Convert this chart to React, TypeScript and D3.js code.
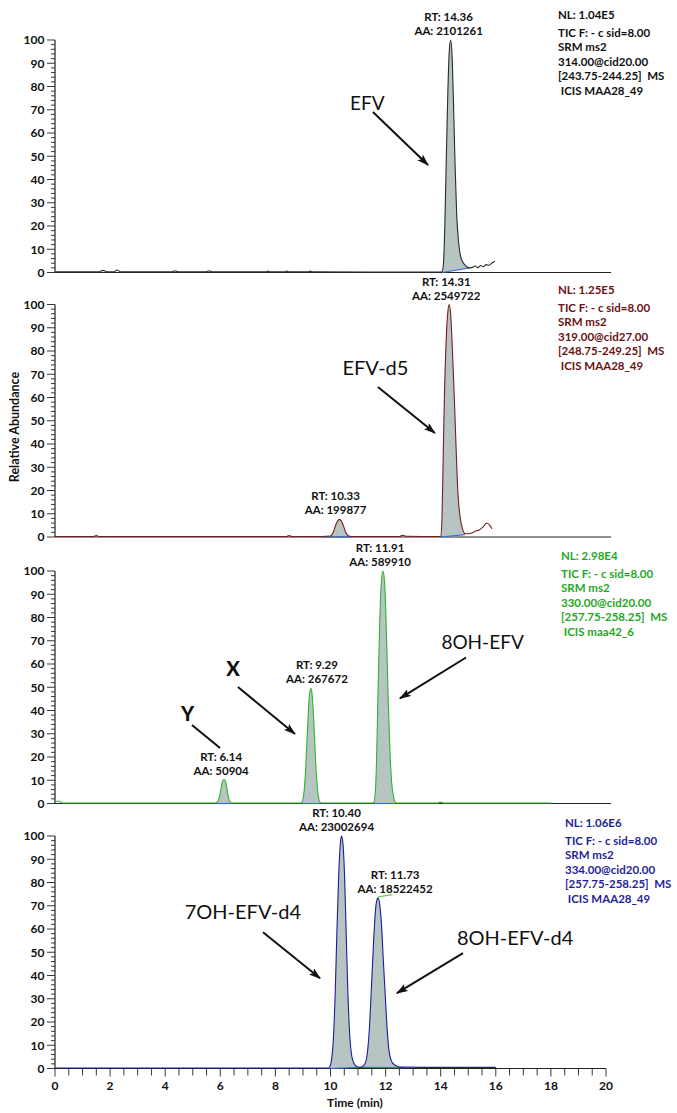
import React from "react";
import * as d3 from "d3";

// axis ticks
const timeTicks = [0, 2, 4, 6, 8, 10, 12, 14, 16, 18, 20];
const abundanceTicks = [0, 10, 20, 30, 40, 50, 60, 70, 80, 90, 100];

// chromatogram traces: [time (min), relative abundance (%)]
const efvTrace: [number, number][] = [
  [0, 0.3], [1.6, 0.3], [1.74, 0.9], [1.88, 0.3], [2.15, 0.3], [2.25, 1.1], [2.38, 0.3],
  [4.25, 0.3], [4.35, 0.7], [4.47, 0.3], [5.5, 0.3], [5.59, 0.7], [5.7, 0.3],
  [7.65, 0.3], [7.73, 0.6], [7.83, 0.3], [8.34, 0.3], [8.42, 0.6], [8.5, 0.3],
  [9.18, 0.3], [9.26, 0.6], [9.35, 0.3], [14.0, 0.2], [14.05, 0.3], [14.1, 4],
  [14.15, 20], [14.2, 47], [14.26, 78], [14.31, 95], [14.36, 100], [14.41, 94],
  [14.46, 75], [14.52, 47], [14.58, 25], [14.65, 13], [14.72, 7], [14.8, 4.5],
  [14.9, 3], [15.0, 2.2], [15.06, 2], [15.15, 2.2], [15.25, 2.8], [15.35, 2.1],
  [15.45, 3], [15.55, 2.5], [15.65, 3.4], [15.75, 3.1], [15.85, 4], [15.97, 4.8],
];

const efvD5Trace: [number, number][] = [
  [0, 0.2], [1.4, 0.2], [1.5, 0.6], [1.6, 0.2], [8.4, 0.2], [8.5, 0.6], [8.6, 0.2],
  [9.68, 0.2], [10.0, 0.4], [10.1, 2], [10.2, 5.5], [10.33, 7.6], [10.45, 5.5],
  [10.55, 2], [10.65, 0.5], [10.75, 0.2], [12.5, 0.2], [12.6, 0.7], [12.75, 0.3],
  [13.95, 0.2], [14.0, 0.3], [14.04, 6], [14.08, 28], [14.13, 58], [14.2, 85],
  [14.26, 97], [14.31, 100], [14.36, 96], [14.42, 82], [14.5, 58], [14.56, 38],
  [14.63, 18], [14.7, 9], [14.78, 4], [14.88, 1.5], [15.0, 1.4], [15.1, 1.6],
  [15.25, 2.5], [15.4, 3], [15.55, 4.5], [15.67, 6], [15.78, 5], [15.86, 3.5],
];

const oh8EfvTrace: [number, number][] = [
  [0, 1], [0.15, 1], [0.3, 0.2], [5.8, 0.2], [5.87, 0.5], [5.95, 2], [6.02, 6],
  [6.08, 9.5], [6.14, 10.3], [6.2, 9], [6.26, 5], [6.32, 1.5], [6.4, 0.2],
  [8.9, 0.2], [8.95, 0.3], [9.03, 4], [9.1, 15], [9.17, 33], [9.23, 46], [9.29, 49.5],
  [9.34, 46], [9.4, 34], [9.46, 18], [9.53, 6], [9.6, 1], [9.68, 0.2],
  [11.5, 0.2], [11.56, 0.3], [11.62, 4], [11.67, 18], [11.72, 45], [11.78, 75],
  [11.84, 94], [11.9, 100], [11.95, 97], [12.0, 85], [12.05, 65], [12.1, 43],
  [12.16, 22], [12.22, 9], [12.29, 3], [12.36, 0.5], [12.42, 0.2],
  [13.9, 0.2], [14.0, 0.6], [14.1, 0.2], [18.0, 0.2],
];

const d4Trace: [number, number][] = [
  [0, 0.2], [9.9, 0.2], [9.96, 0.5], [10.02, 2.5], [10.1, 12], [10.17, 32],
  [10.23, 58], [10.3, 84], [10.36, 97], [10.4, 100], [10.45, 97], [10.51, 83],
  [10.57, 58], [10.63, 33], [10.7, 14], [10.77, 5.5], [10.86, 2], [10.96, 0.8],
  [11.05, 0.5], [11.15, 0.8], [11.25, 2], [11.33, 6], [11.41, 17], [11.49, 36],
  [11.57, 56], [11.64, 69], [11.7, 73], [11.73, 73.4], [11.78, 71], [11.85, 62],
  [11.92, 46], [11.98, 33], [12.05, 18], [12.12, 8], [12.2, 3.5], [12.3, 1.8],
  [12.42, 1], [12.6, 0.6], [13.5, 0.5], [16.0, 0.5],
];

// integrated peak windows: [start, end, baseline at start, baseline at end]
const efvWindows = [[14.05, 15.06, 0, 2]];
const efvD5Windows = [[9.68, 10.75, 0, 0], [14.0, 14.88, 0, 1]];
const oh8EfvWindows = [[5.85, 6.4, 0, 0], [8.95, 9.66, 0, 0], [11.55, 12.38, 0, 0]];
const d4Windows = [[9.95, 11.05, 0, 0.5], [11.05, 12.7, 0.5, 0.4]];

// peak labels: [rt, area, apex abundance]
const efvPeaks: [string, string, number][] = [["14.36", "2101261", 100]];
const efvD5Peaks: [string, string, number][] = [["10.33", "199877", 7.6], ["14.31", "2549722", 100]];
const oh8EfvPeaks: [string, string, number][] = [["6.14", "50904", 10.3], ["9.29", "267672", 49.5], ["11.91", "589910", 100]];
const d4Peaks: [string, string, number][] = [["10.40", "23002694", 100], ["11.73", "18522452", 73.4]];

// scan header text
const efvHeader = ["NL: 1.04E5", "TIC F: - c sid=8.00", "SRM ms2", "314.00@cid20.00", "[243.75-244.25]  MS", " ICIS MAA28_49"];
const efvD5Header = ["NL: 1.25E5", "TIC F: - c sid=8.00", "SRM ms2", "319.00@cid27.00", "[248.75-249.25]  MS", " ICIS MAA28_49"];
const oh8EfvHeader = ["NL: 2.98E4", "TIC F: - c sid=8.00", "SRM ms2", "330.00@cid20.00", "[257.75-258.25]  MS", " ICIS maa42_6"];
const d4Header = ["NL: 1.06E6", "TIC F: - c sid=8.00", "SRM ms2", "334.00@cid20.00", "[257.75-258.25]  MS", " ICIS MAA28_49"];

// compound callouts: [text, label t, label v, arrow from t, v, to t, v, arrowhead]
const efvCallouts: [string, number, number, number, number, number, number, boolean][] = [
  ["EFV", 11.34, 72.9, 11.54, 69, 13.54, 46.2, true],
];
const efvD5Callouts: [string, number, number, number, number, number, number, boolean][] = [
  ["EFV-d5", 11.63, 72.7, 11.72, 64.5, 13.79, 44.7, true],
];
const oh8EfvCallouts: [string, number, number, number, number, number, number, boolean][] = [
  ["X", 6.46, 57.8, 6.64, 50.1, 8.71, 29.9, true],
  ["Y", 4.81, 38.5, 4.97, 33.8, 5.99, 23.9, false],
  ["8OH-EFV", 15.52, 69.5, 14.92, 62.8, 12.52, 45.2, true],
];
const d4Callouts: [string, number, number, number, number, number, number, boolean][] = [
  ["7OH-EFV-d4", 6.82, 67.2, 7.55, 58.6, 9.62, 38.8, true],
  ["8OH-EFV-d4", 16.7, 56.3, 14.81, 49.6, 12.41, 32.4, true],
];

const FONT = "Lato, 'Open Sans', sans-serif";
const FILL = "#b6c5c2";
const BASE_BLUE = "#3a6ee0";

const panels = [
  { trace: efvTrace, windows: efvWindows, peaks: efvPeaks, header: efvHeader, callouts: efvCallouts,
    top: 40, color: "#2a2a2a", text: "#111111", headerX: 558, headerY: 19, labelDx: [-2], calloutSize: 19 },
  { trace: efvD5Trace, windows: efvD5Windows, peaks: efvD5Peaks, header: efvD5Header, callouts: efvD5Callouts,
    top: 304.5, color: "#7a1c1c", text: "#6b1212", headerX: 558, headerY: 294, labelDx: [-4, -3], calloutSize: 20 },
  { trace: oh8EfvTrace, windows: oh8EfvWindows, peaks: oh8EfvPeaks, header: oh8EfvHeader, callouts: oh8EfvCallouts,
    top: 571, color: "#2cb52c", text: "#1fa81f", headerX: 561, headerY: 560, labelDx: [-3, 6, -3], calloutSize: 19 },
  { trace: d4Trace, windows: d4Windows, peaks: d4Peaks, header: d4Header, callouts: d4Callouts,
    top: 836, color: "#1c1ca0", text: "#1f1f99", headerX: 565, headerY: 827, labelDx: [-5, 17], calloutSize: 20 },
];

const PANEL_H = 232.5;
const x = d3.scaleLinear().domain([0, 20]).range([55, 606]);

const App = () => {
  const minorY = d3.range(0, 101, 2);
  const minorX = d3.range(0, 20.01, 0.5);

  return (
    <svg width={677} height={1113} style={{ position: "absolute", left: 0, top: 0, background: "#fff" }}
      fontFamily={FONT}>
      <defs>
        <marker id="arrowhead" viewBox="0 0 12 8" refX="11" refY="4" markerWidth="12" markerHeight="8"
          markerUnits="userSpaceOnUse" orient="auto">
          <path d="M0,0 L12,4 L0,8 L2.5,4 z" fill="#111" />
        </marker>
      </defs>
      {panels.map((p, pi) => {
        const y = d3.scaleLinear().domain([0, 100]).range([p.top + PANEL_H, p.top]);
        const bottom = p.top + PANEL_H;
        const line = d3.line<[number, number]>().x(d => x(d[0])).y(d => y(d[1])).curve(d3.curveMonotoneX);
        const area = d3.area<[number, number]>().x(d => x(d[0])).y0(bottom).y1(d => y(d[1])).curve(d3.curveMonotoneX);
        const isLast = pi === panels.length - 1;
        return (
          <g key={pi}>
            <defs>
              {p.windows.map((w, wi) => (
                <clipPath id={`clip-${pi}-${wi}`} key={wi}>
                  <polygon points={`${x(w[0])},${y(w[2])} ${x(w[1])},${y(w[3])} ${x(w[1])},${p.top - 10} ${x(w[0])},${p.top - 10}`} />
                </clipPath>
              ))}
            </defs>
            {p.windows.map((w, wi) => (
              <path key={"f" + wi} d={area(p.trace) || ""} fill={FILL} clipPath={`url(#clip-${pi}-${wi})`} />
            ))}
            {/* axes */}
            <line x1={55} x2={55} y1={p.top} y2={bottom} stroke="#222" strokeWidth={1.2} />
            <line x1={55} x2={isLast ? 606 : 611} y1={bottom} y2={bottom} stroke="#222" strokeWidth={1.2} />
            {minorY.map(v => (
              <line key={"m" + v} x1={v % 10 === 0 ? 47 : 51} x2={55} y1={y(v)} y2={y(v)} stroke="#222" strokeWidth={0.9} />
            ))}
            {abundanceTicks.map(v => (
              <text key={"t" + v} x={44.5} y={y(v)} dy="0.36em" textAnchor="end" fontSize={12} fontWeight={700} fill="#111">
                {v}
              </text>
            ))}
            {p.windows.map((w, wi) => (
              <line key={"b" + wi} x1={x(w[0])} x2={x(w[1])} y1={y(w[2])} y2={y(w[3])} stroke={BASE_BLUE} strokeWidth={1.2} />
            ))}
            <path d={line(p.trace) || ""} fill="none" stroke={p.color} strokeWidth={1.1} />
            {/* peak labels */}
            {p.peaks.map((pk, ki) => {
              const rt = parseFloat(pk[0]);
              const cx = x(rt) + p.labelDx[ki];
              const ty = y(pk[2]);
              return (
                <text key={"p" + ki} x={cx} textAnchor="middle" fontSize={11.5} fontWeight={700} fill="#111">
                  <tspan x={cx} y={ty - 19}>RT: {pk[0]}</tspan>
                  <tspan x={cx} y={ty - 5}>AA: {pk[1]}</tspan>
                </text>
              );
            })}
            {/* header */}
            <text fontSize={11.5} fontWeight={700} fill={p.text} style={{ whiteSpace: "pre" }}>
              {p.header.map((h, hi) => (
                <tspan key={hi} x={p.headerX} y={p.headerY + (hi === 0 ? 0 : 17.5 + (hi - 1) * 14.6)}>{h}</tspan>
              ))}
            </text>
            {/* callouts */}
            {p.callouts.map((c, ci) => {
              const big = c[0].length === 1;
              return (
                <g key={"c" + ci}>
                  <text x={x(c[1])} y={y(c[2])} dy="0.36em" textAnchor="middle"
                    fontSize={big ? 20 : p.calloutSize} fontWeight={big ? 900 : 400} fill="#111">
                    {c[0]}
                  </text>
                  <line x1={x(c[3])} y1={y(c[4])} x2={x(c[5])} y2={y(c[6])} stroke="#111" strokeWidth={2}
                    markerEnd={c[7] ? "url(#arrowhead)" : undefined} />
                </g>
              );
            })}
            {isLast && (
              <g>
                <line x1={x(11.73)} x2={x(12.24)} y1={y(73.8)} y2={y(74.8)} stroke="#4ce04c" strokeWidth={1.2} />
                {minorX.map(t => (
                  <line key={"x" + t} x1={x(t)} x2={x(t)} y1={bottom} y2={bottom + (t % 2 === 0 ? 8 : 7)} stroke="#222" strokeWidth={0.9} />
                ))}
                {timeTicks.map(t => (
                  <text key={"xt" + t} x={x(t)} y={bottom + 21} textAnchor="middle" fontSize={12} fontWeight={700} fill="#111">
                    {t}
                  </text>
                ))}
                <text x={355} y={1107} textAnchor="middle" fontSize={12} fontWeight={700} fill="#111">Time (min)</text>
              </g>
            )}
          </g>
        );
      })}
      <text transform="translate(19,427) rotate(-90)" textAnchor="middle" fontSize={12.5} fontWeight={700} fill="#111">
        Relative Abundance
      </text>
    </svg>
  );
};

export default App;
